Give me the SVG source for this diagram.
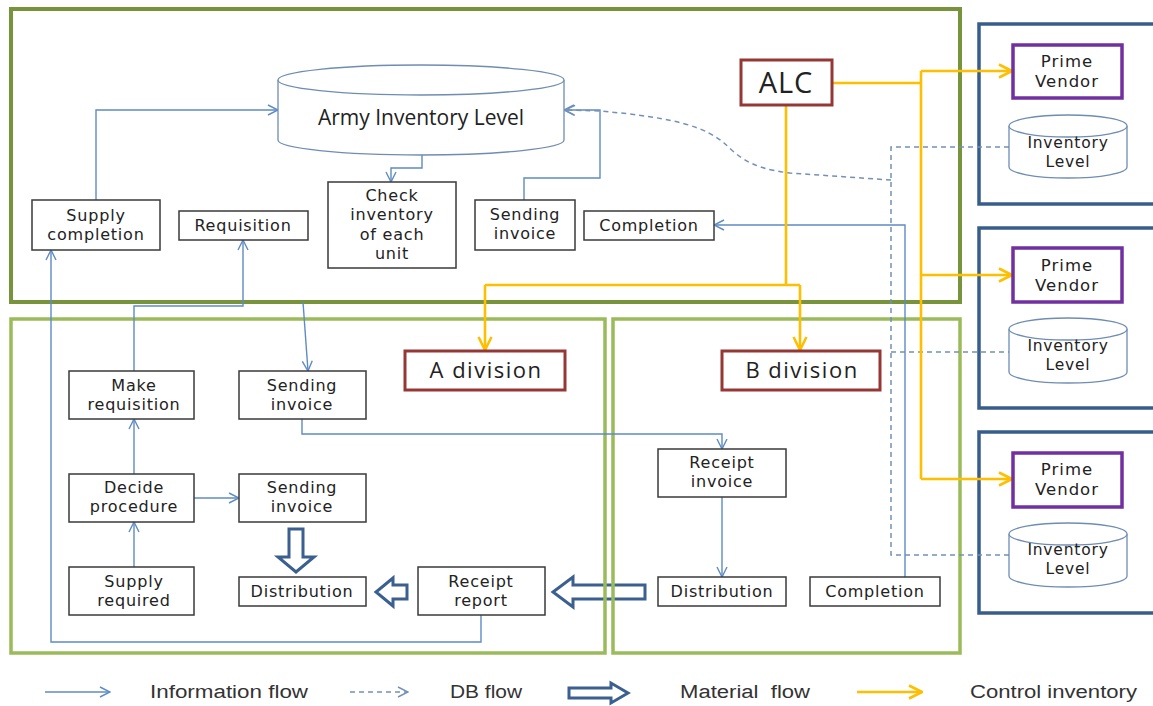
<svg xmlns="http://www.w3.org/2000/svg" width="1153" height="706" viewBox="0 0 1153 706">
<style>
.t{font-family:"DejaVu Sans","Liberation Sans",sans-serif;font-size:16px;fill:#222;text-anchor:middle;letter-spacing:0.8px}
.pvt{font-family:"DejaVu Sans","Liberation Sans",sans-serif;font-size:16.5px;fill:#222;text-anchor:middle;letter-spacing:1px}
.big{font-family:"Open Sans","Liberation Sans",sans-serif;fill:#222;text-anchor:middle}
.inv{font-family:"DejaVu Sans","Liberation Sans",sans-serif;font-size:15.5px;fill:#222;text-anchor:middle;letter-spacing:0.8px}
.lt{font-family:"Liberation Sans",sans-serif;font-size:18px;fill:#333}
.box{fill:#fff;stroke:#3a3a3a;stroke-width:1.5}
.div{fill:#fff;stroke:#953735;stroke-width:3}
.pv{fill:#fff;stroke:#7030a0;stroke-width:3.5}
.vend{fill:none;stroke:#385d8a;stroke-width:3.5}
.cyl{fill:#fff;stroke:#6f8db3;stroke-width:1.3}
.info{fill:none;stroke:#5f8bc4;stroke-width:1.4;marker-end:url(#ai)}
.db{fill:none;stroke:#7391b5;stroke-width:1.5;stroke-dasharray:5,4}
.ctl{fill:none;stroke:#fdbf00;stroke-width:2.6}
.mat{fill:#fff;stroke:#3b5f8f;stroke-width:3;stroke-linejoin:miter}
</style>
<defs>
<marker id="ai" viewBox="0 0 12 12" refX="11" refY="6" markerWidth="12" markerHeight="12" markerUnits="userSpaceOnUse" orient="auto"><path d="M1,1 L11,6 L1,11" fill="none" stroke="#5f8bc4" stroke-width="1.4"/></marker>
<marker id="ad" viewBox="0 0 12 12" refX="11" refY="6" markerWidth="12" markerHeight="12" markerUnits="userSpaceOnUse" orient="auto"><path d="M1,1 L11,6 L1,11" fill="none" stroke="#7391b5" stroke-width="1.4"/></marker>
<marker id="ay" viewBox="0 0 16 16" refX="15" refY="8" markerWidth="16" markerHeight="16" markerUnits="userSpaceOnUse" orient="auto"><path d="M2,1.5 L15,8 L2,14.5" fill="none" stroke="#fdbf00" stroke-width="2.6"/></marker>
</defs>
<rect width="1153" height="706" fill="#fff"/>

<!-- material flow arrows (under containers) -->
<g id="material">
<polygon class="mat" points="289,529 303,529 303,557 314,557 296,572 278,557 289,557"/>
<polygon class="mat" points="407,585 393,585 393,578 376,592 393,606 393,599 407,599"/>
<polygon class="mat" points="645,585 573,585 573,577 553,592 573,607 573,599 645,599"/>
</g>

<!-- containers -->
<g id="containers">
<rect id="army" x="11" y="9" width="949" height="293" fill="none" stroke="#77933c" stroke-width="4"/>
<rect id="adiv" x="11" y="319" width="594" height="334" fill="none" stroke="#9bbb59" stroke-width="3.5"/>
<rect id="bdiv" x="613" y="319" width="347" height="334" fill="none" stroke="#9bbb59" stroke-width="3.5"/>
<rect class="vend" x="979" y="24" width="200" height="180"/>
<rect class="vend" x="979" y="228" width="200" height="180"/>
<rect class="vend" x="979" y="432" width="200" height="181"/>
</g>

<!-- connectors -->
<g id="connectors">
<path class="info" d="M96,200 V110 H278"/>
<path class="info" d="M422,155 V168 H391 V182"/>
<path class="info" d="M524,200 V178 H600 V110 H564"/>
<path class="info" d="M905,577 V225 H714"/>
<path class="info" d="M134,371 V306 H243 V240"/>
<path class="info" d="M303,302 L308,371"/>
<path class="info" d="M302,419 V434 H722 V449"/>
<path class="info" d="M722,497 V577"/>
<path class="info" d="M194,498 H239"/>
<path class="info" d="M134,474 V419"/>
<path class="info" d="M134,567 V522"/>
<path class="info" d="M481,615 V642 H51 V250"/>
<path class="db" d="M891,180 L790,173 C745,168 735,152 724,143 C706,128 680,118 600,111 L565,110" marker-end="url(#ad)"/>
<path class="db" d="M1009,147 H891 V555 H1009"/>
<path class="db" d="M891,352 H1009"/>
<path class="ctl" d="M786,105 V285"/>
<path class="ctl" d="M485,285 H800"/>
<path class="ctl" d="M485,285 V350" marker-end="url(#ay)"/>
<path class="ctl" d="M800,285 V350" marker-end="url(#ay)"/>
<path class="ctl" d="M832,83 H921"/>
<path class="ctl" d="M921,71 V479"/>
<path class="ctl" d="M921,71 H1012" marker-end="url(#ay)"/>
<path class="ctl" d="M921,275 H1012" marker-end="url(#ay)"/>
<path class="ctl" d="M921,479 H1012" marker-end="url(#ay)"/>
</g>

<!-- top area nodes -->
<g id="army-inventory">
<path class="cyl" d="M278,80 V140 A143,15 0 0 0 564,140 V80"/>
<ellipse class="cyl" cx="421" cy="80" rx="143" ry="15"/>
<text class="big" x="421" y="125" style="font-size:21px">Army Inventory Level</text>
</g>
<g id="alc">
<rect class="div" x="741" y="60" width="91" height="45"/>
<text class="big" x="786" y="93" style="font-size:29px;letter-spacing:1px">ALC</text>
</g>
<g id="supply-completion">
<rect class="box" x="32" y="200" width="128" height="50"/>
<text class="t" x="96" y="221">Supply</text><text class="t" x="96" y="240">completion</text>
</g>
<g id="requisition">
<rect class="box" x="179" y="211" width="129" height="29"/>
<text class="t" x="243" y="231">Requisition</text>
</g>
<g id="check-inventory">
<rect class="box" x="328" y="182" width="128" height="86"/>
<text class="t" x="392" y="201">Check</text><text class="t" x="392" y="220">inventory</text><text class="t" x="392" y="240">of each</text><text class="t" x="392" y="259">unit</text>
</g>
<g id="sending-invoice-top">
<rect class="box" x="475" y="200" width="100" height="50"/>
<text class="t" x="525" y="220">Sending</text><text class="t" x="525" y="239">invoice</text>
</g>
<g id="completion-top">
<rect class="box" x="584" y="211" width="130" height="29"/>
<text class="t" x="649" y="231">Completion</text>
</g>

<!-- vendors -->
<g id="vendor1">
<rect class="pv" x="1013" y="45" width="109" height="53"/>
<text class="pvt" x="1067" y="67">Prime</text><text class="pvt" x="1067" y="87">Vendor</text>
</g>
<g id="inv1">
<path class="cyl" d="M1009,126 V167 A59,11 0 0 0 1127,167 V126"/>
<ellipse class="cyl" cx="1068" cy="126" rx="59" ry="11"/>
<text class="inv" x="1068" y="148">Inventory</text><text class="inv" x="1068" y="167">Level</text>
</g>
<g id="vendor2">
<rect class="pv" x="1013" y="248" width="109" height="54"/>
<text class="pvt" x="1067" y="271">Prime</text><text class="pvt" x="1067" y="291">Vendor</text>
</g>
<g id="inv2">
<path class="cyl" d="M1009,329 V372 A59,11 0 0 0 1127,372 V329"/>
<ellipse class="cyl" cx="1068" cy="329" rx="59" ry="11"/>
<text class="inv" x="1068" y="351">Inventory</text><text class="inv" x="1068" y="370">Level</text>
</g>
<g id="vendor3">
<rect class="pv" x="1013" y="453" width="109" height="54"/>
<text class="pvt" x="1067" y="475">Prime</text><text class="pvt" x="1067" y="495">Vendor</text>
</g>
<g id="inv3">
<path class="cyl" d="M1009,534 V576 A59,11 0 0 0 1127,576 V534"/>
<ellipse class="cyl" cx="1068" cy="534" rx="59" ry="11"/>
<text class="inv" x="1068" y="555">Inventory</text><text class="inv" x="1068" y="574">Level</text>
</g>

<!-- A division -->
<g id="a-division">
<rect class="div" x="405" y="351" width="160" height="39"/>
<text class="big" x="486" y="378" style="font-size:22px;letter-spacing:1.5px">A division</text>
</g>
<g id="make-requisition">
<rect class="box" x="69" y="371" width="125" height="48"/>
<text class="t" x="134" y="391">Make</text><text class="t" x="134" y="410">requisition</text>
</g>
<g id="sending-invoice-a1">
<rect class="box" x="239" y="371" width="127" height="48"/>
<text class="t" x="302" y="391">Sending</text><text class="t" x="302" y="410">invoice</text>
</g>
<g id="decide-procedure">
<rect class="box" x="69" y="474" width="125" height="48"/>
<text class="t" x="134" y="493">Decide</text><text class="t" x="134" y="512">procedure</text>
</g>
<g id="sending-invoice-a2">
<rect class="box" x="239" y="474" width="127" height="48"/>
<text class="t" x="302" y="493">Sending</text><text class="t" x="302" y="512">invoice</text>
</g>
<g id="supply-required">
<rect class="box" x="69" y="567" width="125" height="48"/>
<text class="t" x="134" y="587">Supply</text><text class="t" x="134" y="606">required</text>
</g>
<g id="distribution-a">
<rect class="box" x="239" y="577" width="127" height="29"/>
<text class="t" x="302" y="597">Distribution</text>
</g>
<g id="receipt-report">
<rect class="box" x="418" y="567" width="127" height="48"/>
<text class="t" x="481" y="587">Receipt</text><text class="t" x="481" y="606">report</text>
</g>

<!-- B division -->
<g id="b-division">
<rect class="div" x="722" y="351" width="158" height="39"/>
<text class="big" x="802" y="378" style="font-size:22px;letter-spacing:1.5px">B division</text>
</g>
<g id="receipt-invoice">
<rect class="box" x="658" y="449" width="128" height="48"/>
<text class="t" x="722" y="468">Receipt</text><text class="t" x="722" y="487">invoice</text>
</g>
<g id="distribution-b">
<rect class="box" x="658" y="577" width="128" height="29"/>
<text class="t" x="722" y="597">Distribution</text>
</g>
<g id="completion-b">
<rect class="box" x="810" y="577" width="130" height="29"/>
<text class="t" x="875" y="597">Completion</text>
</g>

<!-- legend -->
<g id="legend">
<path class="info" d="M45,692 H110"/>
<text class="lt" x="150" y="698" textLength="158" lengthAdjust="spacingAndGlyphs">Information flow</text>
<path class="db" d="M350,692 H408" marker-end="url(#ad)"/>
<text class="lt" x="450" y="698" textLength="72" lengthAdjust="spacingAndGlyphs">DB flow</text>
<polygon class="mat" points="569,688 611,688 611,683 628,693 611,703 611,698 569,698"/>
<text class="lt" x="680" y="698" textLength="130" lengthAdjust="spacingAndGlyphs" xml:space="preserve">Material  flow</text>
<path class="ctl" d="M857,692 H922" marker-end="url(#ay)"/>
<text class="lt" x="970" y="698" textLength="167" lengthAdjust="spacingAndGlyphs">Control inventory</text>
</g>
</svg>
